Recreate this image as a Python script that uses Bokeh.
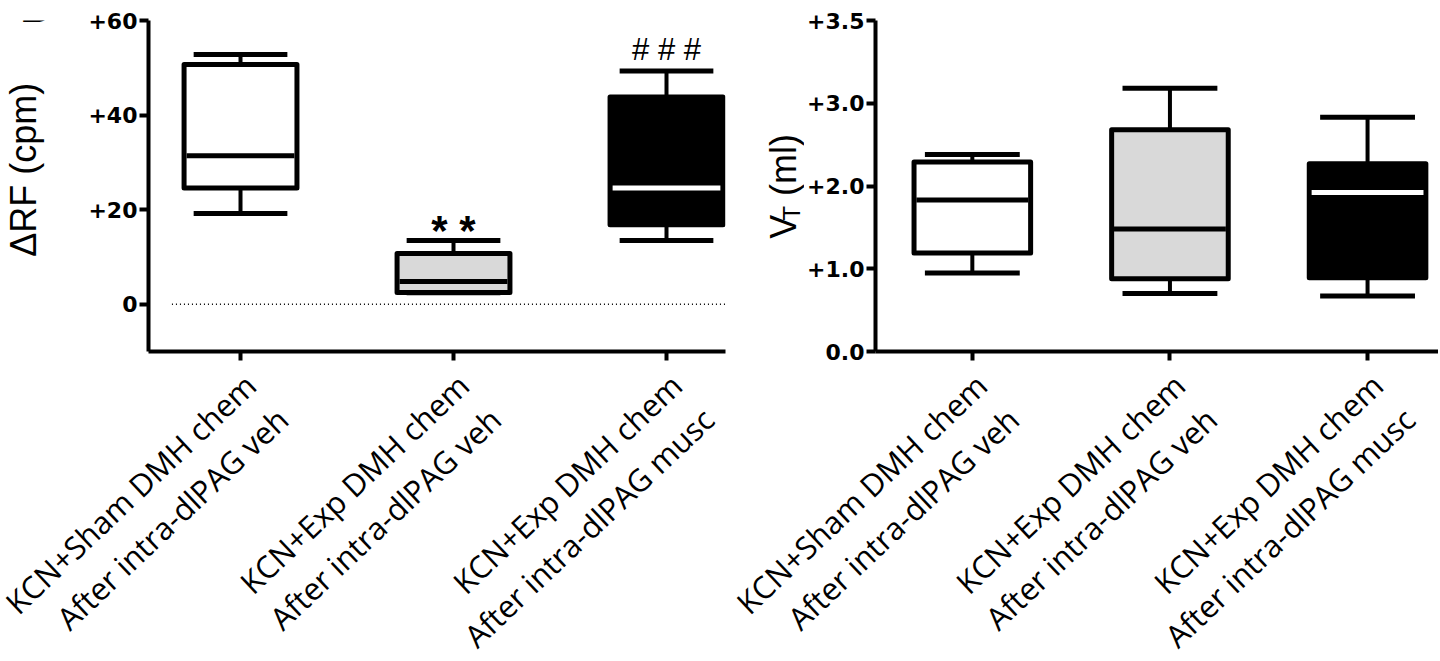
import numpy as np
from math import pi, radians
from bokeh.plotting import figure
from bokeh.layouts import row, column
from bokeh.models import Range1d, FixedTicker, ColumnDataSource
from bokeh.embed import file_html
from bokeh.resources import INLINE
from bokeh.core.properties import value

# ---------------- data ----------------
categories = ["KCN+Sham DMH chem\nAfter intra-dlPAG veh",
              "KCN+Exp DMH chem\nAfter intra-dlPAG veh",
              "KCN+Exp DMH chem\nAfter intra-dlPAG musc"]
box_fill = ["#ffffff", "#d9d9d9", "#000000"]
median_color = ["#000000", "#000000", "#ffffff"]

# left panel: delta RF (cpm)
rf_min = [19.2, 2.4, 13.5]
rf_q1 = [24.6, 2.5, 16.8]
rf_median = [31.4, 4.8, 24.6]
rf_q3 = [50.7, 10.7, 43.8]
rf_max = [52.8, 13.5, 49.3]
rf_marks = ["", "* *", "# # #"]
rf_ticks = [0, 20, 40, 60]
rf_tick_labels = ["0", "+20", "+40", "+60"]

# right panel: VT (ml)
vt_min = [0.95, 0.70, 0.67]
vt_q1 = [1.19, 0.88, 0.89]
vt_median = [1.83, 1.48, 1.92]
vt_q3 = [2.29, 2.68, 2.27]
vt_max = [2.38, 3.18, 2.83]
vt_ticks = [0, 1, 2, 3, 4]
vt_tick_labels = ["0.0", "+1.0", "+2.0", "+3.0", "+3.5"]

# ---------------- layout constants (pixels) ----------------
UP_H = 364      # height of the plotting row
LOW_H = 297     # height of the category-label row
T1_W, P1_W, T2_W, P2_W = 50, 714, 40, 634
L1_W, L2_W = 730, 708

P1_X = T1_W                     # page x of p1
P2_X = T1_W + P1_W + T2_W       # page x of p2
P1_BORDERS = (98, 39, 20, 12)   # left, right, top, bottom
P2_BORDERS = (70, 0, 16, 13)
P1_XR, P1_YR = (-0.432, 2.277), (-10, 60)
P2_XR, P2_YR = (-0.490, 2.359), (0, 4)

LABEL_FONT = "Open Sans"
LABEL_SIZE = "31px"
LABEL_ANGLE = radians(43.5)


def extend(r, f0, f1, a, b):
    """extend range r (mapped onto pixels f0..f1) so that it maps onto a..b"""
    s = (f1 - f0) / (r[1] - r[0])
    return (r[0] + (a - f0) / s, r[1] + (b - f1) / s)


def bare_fig(width, height, xr, yr, no_title=False):
    kw = dict(title=None) if no_title else {}
    f = figure(width=width, height=height, x_range=Range1d(*xr),
               y_range=Range1d(*yr), x_axis_type=None, y_axis_type=None,
               output_backend="svg", toolbar_location=None,
               min_border=0, min_border_left=0, min_border_right=0,
               min_border_top=0, min_border_bottom=0, **kw)
    f.outline_line_color = None
    f.grid.visible = False
    return f


def make_panel(width, x_range, y_range, borders, mins, q1, med, q3, maxs,
               ticks, tick_labels, box_w, cap_w):
    bl, br, bt, bb = borders
    p = figure(width=width, height=UP_H,
               x_range=Range1d(*x_range), y_range=Range1d(*y_range),
               output_backend="svg", toolbar_location=None,
               min_border_left=bl, min_border_right=br,
               min_border_top=bt, min_border_bottom=bb)
    p.grid.visible = False
    p.outline_line_color = None

    x = np.arange(len(categories), dtype=float)
    src = ColumnDataSource(dict(
        x=x, mn=mins, q1=q1, med=med, q3=q3, mx=maxs,
        cap_l=x - cap_w / 2, cap_r=x + cap_w / 2,
        med_l=x - box_w / 2 + 0.012, med_r=x + box_w / 2 - 0.012,
        fill=box_fill, mcol=median_color))

    p.segment(x0="x", y0="q3", x1="x", y1="mx", source=src,
              line_color="black", line_width=4)
    p.segment(x0="x", y0="q1", x1="x", y1="mn", source=src,
              line_color="black", line_width=4)
    p.segment(x0="cap_l", y0="mx", x1="cap_r", y1="mx", source=src,
              line_color="black", line_width=5, line_cap="butt")
    p.segment(x0="cap_l", y0="mn", x1="cap_r", y1="mn", source=src,
              line_color="black", line_width=5, line_cap="butt")
    p.vbar(x="x", width=box_w, bottom="q1", top="q3", source=src,
           fill_color="fill", line_color="black", line_width=5,
           line_join="round")
    p.segment(x0="med_l", y0="med", x1="med_r", y1="med", source=src,
              line_color="mcol", line_width=5, line_cap="butt")

    xa = p.xaxis[0]
    xa.ticker = FixedTicker(ticks=list(x))
    xa.major_label_overrides = {i: "" for i in range(len(categories))}
    xa.major_label_text_font_size = "1px"
    xa.major_label_standoff = 0
    xa.axis_line_width = 4
    xa.axis_line_color = "black"
    xa.major_tick_line_width = 4
    xa.major_tick_line_color = "black"
    xa.major_tick_out = 9
    xa.major_tick_in = 0
    xa.minor_tick_line_color = None

    ya = p.yaxis[0]
    ya.ticker = FixedTicker(ticks=ticks)
    ya.major_label_overrides = dict(zip(ticks, tick_labels))
    ya.major_label_text_font = "DejaVu Sans"
    ya.major_label_text_font_style = "bold"
    ya.major_label_text_font_size = "22px"
    ya.major_label_text_color = "black"
    ya.major_label_standoff = 2
    ya.axis_line_width = 4
    ya.axis_line_color = "black"
    ya.major_tick_line_width = 4
    ya.major_tick_line_color = "black"
    ya.major_tick_out = 9
    ya.major_tick_in = 0
    ya.minor_tick_line_color = None
    return p


def frame_px(px, borders, width):
    return px + borders[0], px + width - borders[1]


def label_fig(width, xr):
    f = bare_fig(width, LOW_H, xr, (0, 1))
    x = np.arange(len(categories), dtype=float)
    line1 = [c.split("\n")[0] for c in categories]
    line2 = [c.split("\n")[1] for c in categories]
    for txt, dx, dy in ((line1, 10, 15), (line2, 42, 49)):
        f.text(x=x, y=np.ones(len(x)) * 0.999, text=txt, angle=LABEL_ANGLE,
               text_align="right", text_baseline="middle",
               x_offset=dx, y_offset=dy,
               text_font=value(LABEL_FONT), text_font_size=LABEL_SIZE,
               text_color="black")
    return f


# ---------- left panel ----------
p1 = make_panel(P1_W, P1_XR, P1_YR, P1_BORDERS,
                rf_min, rf_q1, rf_median, rf_q3, rf_max,
                rf_ticks, rf_tick_labels, box_w=0.53, cap_w=0.44)
p1.segment(x0=[P1_XR[0] + 0.11], y0=[0], x1=[P1_XR[1]], y1=[0],
           line_color="black", line_width=1.5, line_dash="1 3")
p1.text(x=[1.0], y=[rf_max[1]], text=[rf_marks[1]], text_align="center",
        text_baseline="middle", y_offset=-10,
        text_font=value("Liberation Sans"), text_font_style="bold",
        text_font_size="42px", text_color="black")
p1.text(x=[2.0], y=[rf_max[2]], text=[rf_marks[2]], text_align="center",
        text_baseline="middle", y_offset=-22,
        text_font=value("Liberation Sans"), text_font_size="31px",
        text_color="black")

# y title strip for the left panel
f0 = P1_BORDERS[2]
f1 = UP_H - P1_BORDERS[3]
s1 = (f1 - f0) / (P1_YR[1] - P1_YR[0])
t1_yr = (P1_YR[0] - (UP_H - f1) / s1, P1_YR[1] + f0 / s1)
t1 = bare_fig(T1_W, UP_H, (0, 1), t1_yr, no_title=True)
t1.text(x=[0.46], y=[29.6], text=["\u0394RF (cpm)"], angle=pi / 2,
        text_align="center", text_baseline="middle",
        text_font=value("Liberation Sans"), text_font_size="36px",
        text_color="black")
t1.text(x=[0.40], y=[t1_yr[1] - 0.05], text=["B"], text_align="left",
        text_baseline="middle", y_offset=-13,
        text_font=value("Liberation Sans"),
        text_font_style="bold", text_font_size="40px", text_color="black")

# ---------- right panel ----------
p2 = make_panel(P2_W, P2_XR, P2_YR, P2_BORDERS,
                vt_min, vt_q1, vt_median, vt_q3, vt_max,
                vt_ticks, vt_tick_labels, box_w=0.59, cap_w=0.48)

g0 = P2_BORDERS[2]
g1 = UP_H - P2_BORDERS[3]
s2 = (g1 - g0) / (P2_YR[1] - P2_YR[0])
t2_yr = (P2_YR[0] - (UP_H - g1) / s2, P2_YR[1] + g0 / s2)
t2 = bare_fig(T2_W, UP_H, (0, 1), t2_yr, no_title=True)
for txt, xx, yy, size in (("V", 0.48, 1.325, "36px"),
                          ("T", 0.68, 1.564, "24px"),
                          ("(ml)", 0.48, 1.887, "36px")):
    t2.text(x=[xx], y=[yy], text=[txt], angle=pi / 2, text_align="left",
            text_baseline="middle", text_font=value("Liberation Sans"),
            text_font_size=size, text_color="black")

# ---------- category label strips ----------
a1, b1 = frame_px(P1_X, P1_BORDERS, P1_W)
l1 = label_fig(L1_W, extend(P1_XR, a1, b1, 0, L1_W))
a2, b2 = frame_px(P2_X, P2_BORDERS, P2_W)
l2 = label_fig(L2_W, extend(P2_XR, a2, b2, L1_W, L1_W + L2_W))

layout = column(row(t1, p1, t2, p2), row(l1, l2))
open("out.html", "w").write(file_html(layout, INLINE))
